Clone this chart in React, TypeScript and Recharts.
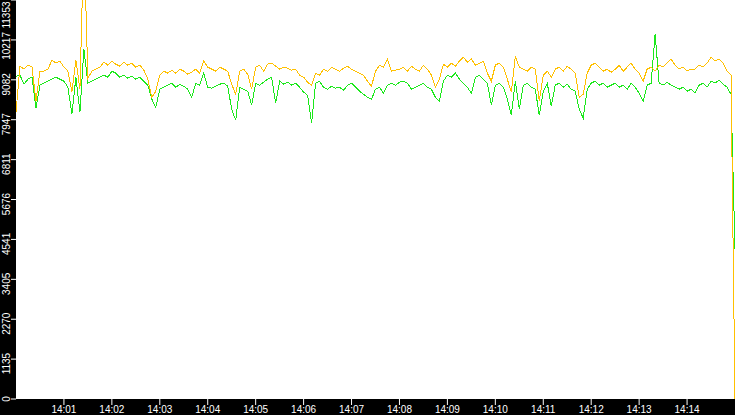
import React from 'react';
import { LineChart, Line, XAxis, YAxis, CartesianGrid } from 'recharts';

// samples every 5 s starting 14:00:00
const startHour = 14;
const sampleStepSec = 5;

const orangeValues = [
  8160, 9470, 9385, 9499, 9442, 8473, 9328, 9328, 9385, 9642,
  9556, 9613, 9442, 9328, 8730, 9642, 8815, 13200, 9128, 9328,
  9385, 9442, 9585, 9499, 9613, 9527, 9470, 9585, 9499, 9556,
  9442, 9499, 9356, 9100, 8587, 8758, 9214, 9328, 9271, 9356,
  9271, 9385, 9328, 9242, 9300, 9385, 9271, 9613, 9442, 9385,
  9328, 9442, 9385, 9328, 8957, 8672, 9328, 9385, 9242, 8815,
  9442, 9499, 9328, 9527, 9556, 9470, 9385, 9442, 9413, 9356,
  9385, 9214, 9157, 9014, 8929, 9271, 9214, 9385, 9328, 9442,
  9385, 9328, 9413, 9470, 9385, 9328, 9271, 9214, 9043, 8900,
  9328, 9499, 9442, 9670, 9328, 9356, 9385, 9442, 9328, 9470,
  9385, 9328, 9499, 9385, 9214, 8872, 9100, 9527, 9442, 9556,
  9470, 9613, 9727, 9585, 9670, 9499, 9556, 9613, 9271, 9043,
  9499, 9556, 9442, 9100, 8730, 9755, 9442, 9385, 9328, 9442,
  9385, 8473, 9214, 9328, 9157, 9385, 9442, 9328, 9470, 9385,
  9271, 8587, 8672, 9271, 9499, 9556, 9442, 9328, 9385, 9300,
  9385, 9499, 9328, 9442, 9556, 9385, 9271, 9043, 9385, 9442,
  9328, 9499, 9442, 9556, 9670, 9499, 9385, 9442, 9328, 9385,
  9385, 9499, 9442, 9556, 9727, 9613, 9670, 9556, 9328, 9214,
  0,
];

const greenValues = [
  9186, 9214, 8957, 9100, 9157, 8273, 8929, 8986, 9043, 9100,
  9157, 9100, 9043, 8872, 8102, 9157, 8160, 9955, 8986, 9043,
  9100, 9157, 9214, 9157, 9328, 9271, 9157, 9214, 9128, 9186,
  9100, 9157, 9043, 8929, 8530, 8302, 8815, 8872, 8929, 8986,
  8872, 8957, 8900, 8815, 8587, 8986, 8929, 9271, 8872, 8844,
  8900, 8957, 8986, 8900, 8245, 7931, 8872, 8815, 8758, 8359,
  8986, 8929, 9014, 9100, 9157, 8416, 9043, 8957, 9014, 8929,
  8986, 8872, 8730, 8644, 7846, 8986, 9043, 8872, 8815, 8900,
  8844, 8872, 8787, 8929, 8986, 8872, 8758, 8672, 8587, 8530,
  8815, 8872, 8701, 8929, 8986, 8929, 9014, 9043, 8986, 8815,
  8872, 8929, 8986, 8872, 8815, 8587, 8473, 9043, 9214, 9157,
  9271, 9100, 8986, 8872, 8701, 9157, 9214, 9100, 8986, 8359,
  8929, 8986, 8872, 8530, 8074, 9043, 8245, 8929, 8986, 8872,
  8815, 8074, 8758, 8986, 8330, 8929, 8986, 8872, 8957, 8815,
  8758, 8245, 7988, 8815, 8986, 9043, 8929, 8986, 8872, 8929,
  8986, 8872, 8929, 8815, 8986, 8872, 8701, 8473, 8929, 8986,
  10382, 8986, 8929, 9014, 8929, 8872, 8815, 8872, 8758, 8815,
  8701, 8929, 8986, 8872, 9043, 8986, 9072, 8957, 8872, 8672,
  4255,
];

const yTicks = [0, 1135, 2270, 3405, 4541, 5676, 6811, 7947, 9082, 10217, 11353];
const xTickLabels = [
  '14:01', '14:02', '14:03', '14:04', '14:05', '14:06', '14:07',
  '14:08', '14:09', '14:10', '14:11', '14:12', '14:13', '14:14',
];

const toSec = (label: string) => {
  const [h, m] = label.split(':').map(Number);
  return (h - startHour) * 3600 + m * 60;
};
const xTicks = xTickLabels.map(toSec);

const data = orangeValues.map((v, i) => ({
  t: i * sampleStepSec,
  orange: v,
  green: greenValues[i],
}));

const fmtTime = (s: number) => {
  const m = Math.floor(s / 60);
  return `${startHour}:${String(m).padStart(2, '0')}`;
};

const YTick = (props: any) => {
  const { x, y, payload } = props;
  const label = String(payload.value);
  const halfLen = label.length * 2.8;
  // keep the top label inside the chart
  const cy = Math.max(y + (label.length - 1) * 1.5, halfLen + 1);
  return (
    <text
      transform={`translate(${x - 1.5},${cy}) rotate(-90)`}
      textAnchor="middle"
      fill="#fff"
      fontSize={10}
      fontFamily="Liberation Sans, Arial, sans-serif"
    >
      {label}
    </text>
  );
};

export default function App() {
  return (
    <div style={{ position: 'fixed', left: 0, top: 0, width: 735, height: 415, background: '#000' }}>
      <LineChart
        width={735}
        height={415}
        data={data}
        margin={{ top: 0, right: 0, bottom: 0, left: 0 }}
        style={{ background: '#000' }}
      >
        <CartesianGrid fill="#fff" stroke="none" horizontal={false} vertical={false} />
        <XAxis
          dataKey="t"
          type="number"
          domain={[0, 900]}
          ticks={xTicks}
          tickFormatter={fmtTime}
          height={16}
          tickSize={6}
          tickMargin={1}
          axisLine={false}
          tickLine={{ stroke: '#fff' }}
          tick={{ fill: '#fff', fontSize: 10, fontFamily: 'Liberation Sans, Arial, sans-serif' }}
          interval={0}
        />
        <YAxis
          type="number"
          domain={[0, 11353]}
          ticks={yTicks}
          allowDataOverflow
          width={16}
          tickSize={5}
          tickMargin={0}
          axisLine={false}
          tickLine={{ stroke: '#fff' }}
          tick={<YTick />}
          interval={0}
        />
        <Line
          type="linear"
          dataKey="green"
          stroke="#1be81b"
          strokeWidth={1}
          dot={false}
          isAnimationActive={false}
          style={{ shapeRendering: 'crispEdges' }}
        />
        <Line
          type="linear"
          dataKey="orange"
          stroke="#ffc000"
          strokeWidth={1}
          dot={false}
          isAnimationActive={false}
          style={{ shapeRendering: 'crispEdges' }}
        />
      </LineChart>
    </div>
  );
}
